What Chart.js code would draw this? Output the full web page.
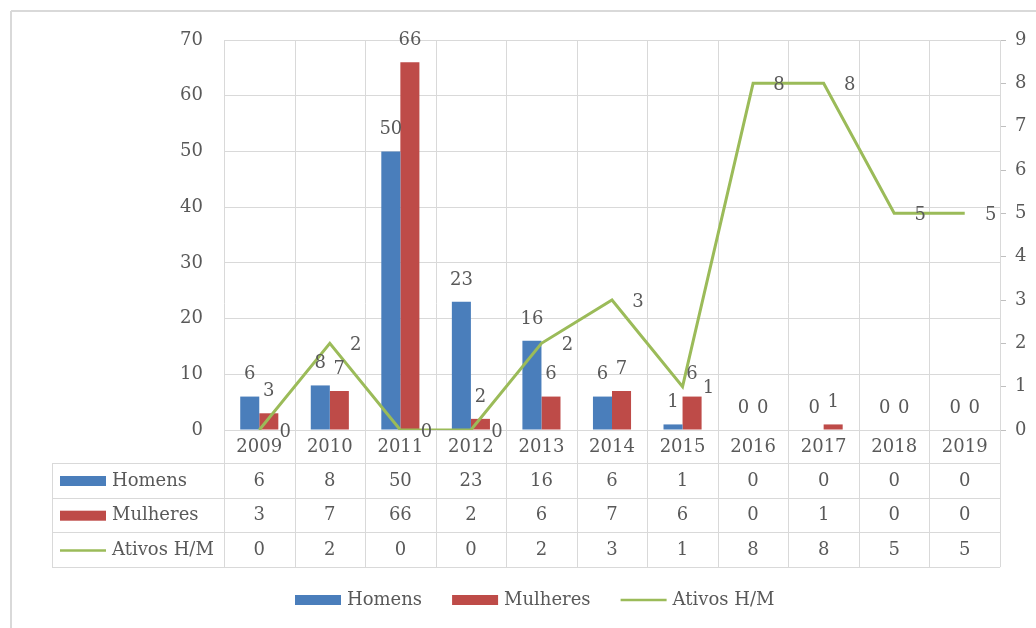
<!DOCTYPE html>
<html>
<head>
<meta charset="utf-8">
<script src="https://cdn.jsdelivr.net/npm/chart.js@4.4.1/dist/chart.umd.min.js"></script>
<style>
body { margin: 0; background: #fff; }
#wrap { width: 1036px; height: 628px; }
</style>
</head>
<body>
<div id="wrap"><canvas id="chart"></canvas></div>
<script>
const anos = ['2009', '2010', '2011', '2012', '2013', '2014', '2015', '2016', '2017', '2018', '2019'];
const homens = [6, 8, 50, 23, 16, 6, 1, 0, 0, 0, 0];
const mulheres = [3, 7, 66, 2, 6, 7, 6, 0, 1, 0, 0];
const ativos = [0, 2, 0, 0, 2, 3, 1, 8, 8, 5, 5];
const nomes = ['Homens', 'Mulheres', 'Ativos H/M'];

const AZUL = '#4a7ebb';
const VERMELHO = '#be4b48';
const VERDE = '#9bbb59';
const TXT = '#595959';
const GRID = '#d9d9d9';
const FAM = '"DejaVu Serif", serif';
const FONT = '18px ' + FAM;

// helper for crisp 1px lines
function linha(ctx, x1, y1, x2, y2) {
    ctx.beginPath();
    ctx.moveTo(x1, y1);
    ctx.lineTo(x2, y2);
    ctx.stroke();
}

function chave(ctx, i, x, y) {
    if (i < 2) {
        ctx.fillStyle = i === 0 ? AZUL : VERMELHO;
        ctx.fillRect(x, y - 5, 46, 10);
    } else {
        ctx.strokeStyle = VERDE;
        ctx.lineWidth = 2.5;
        linha(ctx, x, y, x + 46, y);
    }
}

const tabela = {
    id: 'tabela',
    beforeDatasetsDraw(chart) {
        const { ctx, chartArea, scales: { x } } = chart;
        const meio = (x.getPixelForValue(1) - x.getPixelForValue(0)) / 2;
        const topo = chartArea.bottom + 33;
        const fim = topo + 3 * 34.7;
        ctx.save();
        ctx.strokeStyle = GRID;
        ctx.lineWidth = 1;
        // outer frame
        ctx.lineWidth = 2;
        linha(ctx, 11, 11, 1036, 11);
        linha(ctx, 11, 11, 11, 628);
        ctx.lineWidth = 1;
        for (let i = 0; i <= anos.length; i++) {
            const px = Math.round(x.getPixelForValue(i) - meio) + 0.5;
            linha(ctx, px, chartArea.top, px, fim);
        }
        for (let r = 0; r <= 3; r++) {
            const py = Math.round(topo + r * 34.7) + 0.5;
            linha(ctx, 52, py, chartArea.right, py);
        }
        linha(ctx, 52.5, topo, 52.5, fim);
        ctx.restore();
    },
    afterDatasetsDraw(chart) {
        const { ctx } = chart;
        ctx.save();
        ctx.font = FONT;
        ctx.fillStyle = TXT;
        ctx.textAlign = 'center';
        ctx.textBaseline = 'middle';
        chart.data.datasets.forEach((ds, di) => {
            const meta = chart.getDatasetMeta(di);
            meta.data.forEach((el, i) => {
                if (ds.type === 'line') {
                    ctx.fillText(String(ds.data[i]), el.x + 26, el.y + 2);
                } else {
                    ctx.fillText(String(ds.data[i]), el.x, el.y - 22);
                }
            });
        });
        ctx.restore();
    },
    afterDraw(chart) {
        const { ctx, chartArea, scales: { x } } = chart;
        const topo = chartArea.bottom + 33;
        const series = [homens, mulheres, ativos];
        ctx.save();
        ctx.font = FONT;
        ctx.fillStyle = TXT;
        ctx.textBaseline = 'middle';
        ctx.textAlign = 'center';
        anos.forEach((a, i) => ctx.fillText(a, x.getPixelForValue(i), chartArea.bottom + 17));
        series.forEach((s, r) => {
            const cy = topo + r * 34.7 + 18;
            s.forEach((v, i) => {
                ctx.fillStyle = TXT;
                ctx.fillText(String(v), x.getPixelForValue(i), cy);
            });
            chave(ctx, r, 60, cy);
            ctx.fillStyle = TXT;
            ctx.textAlign = 'left';
            ctx.fillText(nomes[r], 112, cy);
            ctx.textAlign = 'center';
        });
        // bottom legend
        let lx = 295;
        const ly = 600;
        ctx.textAlign = 'left';
        nomes.forEach((n, i) => {
            chave(ctx, i, lx, ly);
            ctx.fillStyle = TXT;
            ctx.fillText(n, lx + 52, ly);
            lx += 52 + ctx.measureText(n).width + 30;
        });
        ctx.restore();
    }
};

new Chart(document.getElementById('chart'), {
    type: 'bar',
    data: {
        labels: anos,
        datasets: [
            { label: nomes[0], data: homens, backgroundColor: AZUL, yAxisID: 'y', order: 1,
              categoryPercentage: 0.54, barPercentage: 1.0 },
            { label: nomes[1], data: mulheres, backgroundColor: VERMELHO, yAxisID: 'y', order: 1,
              categoryPercentage: 0.54, barPercentage: 1.0 },
            { type: 'line', label: nomes[2], data: ativos, borderColor: VERDE, backgroundColor: VERDE,
              borderWidth: 3, pointRadius: 0, tension: 0, yAxisID: 'y1', order: 0 }
        ]
    },
    options: {
        responsive: true,
        maintainAspectRatio: false,
        animation: false,
        layout: { padding: { top: 40, bottom: 198, left: 0, right: 0 } },
        plugins: { legend: { display: false }, tooltip: { enabled: false } },
        scales: {
            x: { display: false },
            y: {
                position: 'left', min: 0, max: 70,
                ticks: { stepSize: 10, padding: 21, color: TXT, font: { family: FAM, size: 18 } },
                grid: { color: GRID, drawTicks: false },
                border: { display: false },
                afterFit(s) { s.width = 224; }
            },
            y1: {
                position: 'right', min: 0, max: 9,
                ticks: { stepSize: 1, padding: 9, color: TXT, font: { family: FAM, size: 18 } },
                grid: { drawOnChartArea: false, color: '#bfbfbf', tickLength: 6 },
                border: { display: true, color: GRID },
                afterFit(s) { s.width = 36; }
            }
        }
    },
    plugins: [tabela]
});
</script>
</body>
</html>
